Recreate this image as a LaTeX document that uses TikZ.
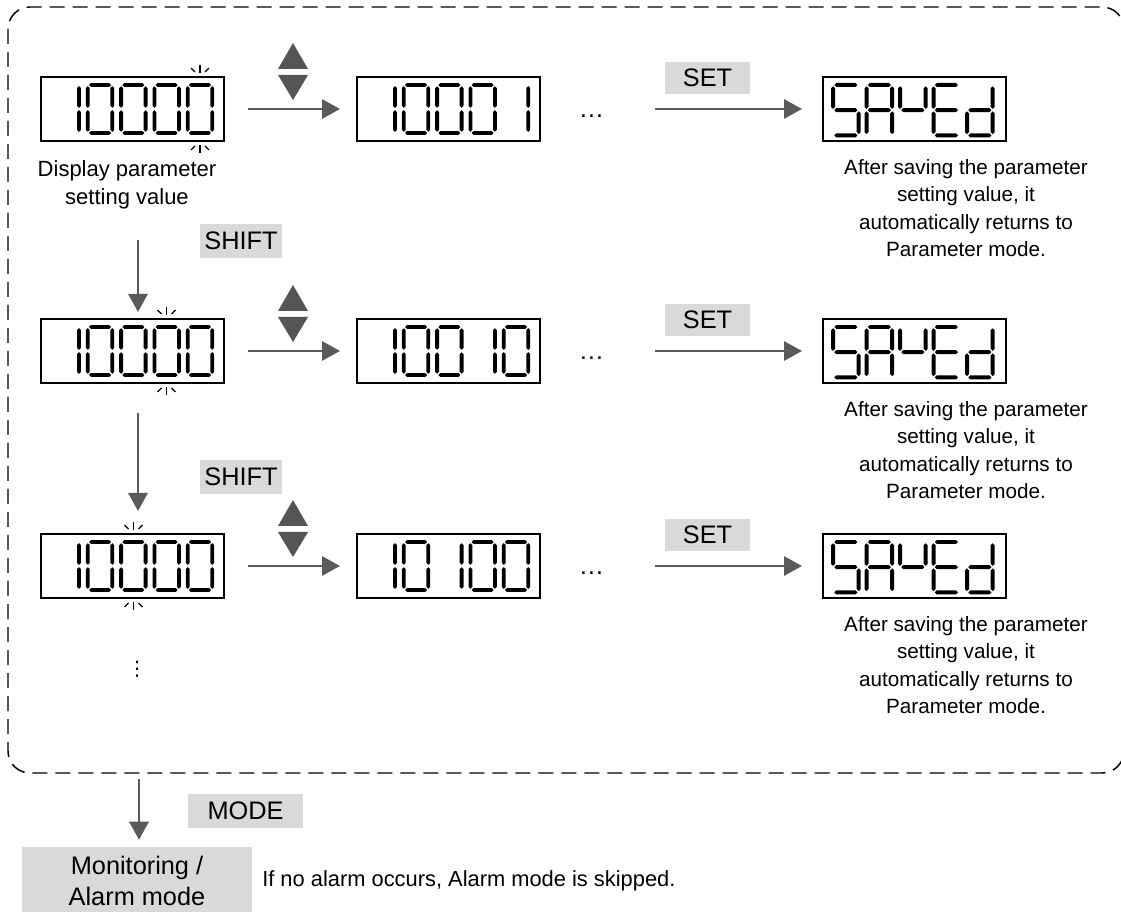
\documentclass[tikz,border=0pt]{standalone}
\usepackage{fontspec}
\setmainfont{Liberation Sans}
\newfontfamily\djv{DejaVu Sans}
\usetikzlibrary{arrows.meta}
\definecolor{arrgray}{HTML}{5A5A5A}
\definecolor{keyg}{HTML}{D9D9D9}
\definecolor{trigray}{HTML}{555555}
% seven-segment helpers (cell 24.5 x 48 px)
\newcommand\hsg[1]{\fill (1.2,#1)--(3.1,{#1-1.9})--(21.4,{#1-1.9})--(23.3,#1)--(21.4,{#1+1.9})--(3.1,{#1+1.9})--cycle;}
\newcommand\vsg[3]{\fill (#1,#2)--({#1+1.9},{#2+1.9})--({#1+1.9},{#3-1.9})--(#1,#3)--({#1-1.9},{#3-1.9})--({#1-1.9},{#2+1.9})--cycle;}
\newcommand\sgA{\hsg{0}}
\newcommand\sgD{\hsg{48}}
\newcommand\sgG{\hsg{24}}
\newcommand\sgF{\vsg{0}{1.2}{22.8}}
\newcommand\sgE{\vsg{0}{25.2}{46.8}}
\newcommand\sgB{\vsg{24.5}{1.2}{22.8}}
\newcommand\sgC{\vsg{24.5}{25.2}{46.8}}
\newcommand\dgt[4][1]{\begin{scope}[shift={({#2},{#3})},scale=#1]\foreach \s in {#4}{\csname sg\s\endcsname}\end{scope}}
\newcommand\numdisp[7]{%
\dgt{#1+13.5}{#2+8}{#3}\dgt{#1+46.8}{#2+8}{#4}\dgt{#1+80.1}{#2+8}{#5}\dgt{#1+113.4}{#2+8}{#6}\dgt{#1+146.7}{#2+8}{#7}}
\newcommand\savedisp[2]{%
\dgt[1.05]{#1+10}{#2+8}{A,F,G,C,D}\dgt[1.05]{#1+43.5}{#2+8}{A,B,C,E,F,G}\dgt[1.05]{#1+77}{#2+8}{F,G,B}\dgt[1.05]{#1+110.5}{#2+8}{A,D,E,F,G}\dgt[1.05]{#1+144}{#2+8}{B,C,D,E,G}}
\newcommand\blinkup[2]{\draw[blinkline] (#1,{#2-12})--(#1,{#2-4}); \draw[blinkline] ({#1-9},{#2-9})--({#1-5},{#2-5}); \draw[blinkline] ({#1+9},{#2-9})--({#1+5},{#2-5});}
\newcommand\blinkdn[2]{\draw[blinkline] (#1,{#2+12})--(#1,{#2+4}); \draw[blinkline] ({#1-9},{#2+9})--({#1-5},{#2+5}); \draw[blinkline] ({#1+9},{#2+9})--({#1+5},{#2+5});}
\newcommand\updown[1]{\fill[trigray] (278,{69+#1})--(293,{43+#1})--(308,{69+#1})--cycle; \fill[trigray] (278,{75+#1})--(308,{75+#1})--(293,{100+#1})--cycle;}
\begin{document}
\begin{tikzpicture}[x=0.75pt,y=-0.75pt,
  dispbox/.style={draw=black, line width=1.1pt, minimum width=137.25pt, minimum height=48pt, inner sep=0pt, outer sep=0pt},
  blinkline/.style={line width=0.95pt},
  conn/.style={draw=arrgray, line width=1.5pt, -{Triangle[length=13.5pt,width=14.5pt]}},
  keybox/.style={fill=keyg, inner sep=0pt, font=\fontsize{19}{21}\selectfont},
  body/.style={font=\fontsize{15.5}{20.6}\selectfont, align=center, inner sep=0pt},
  dotsnode/.style={inner sep=0pt, font=\fontsize{19}{19}\selectfont},
]
\useasboundingbox (0,0) rectangle (1121,912);
\clip (0,0) rectangle (1121,912);
% dashed frame
\draw[line width=1.1pt, dash pattern=on 11.25pt off 6pt, rounded corners=16.5pt] (8,7) rectangle (1124,773);

% ---------- row 1 ----------
\node[dispbox] (d11) at (132.5,109) {};
\node[dispbox] (d12) at (448.5,109) {};
\node[dispbox] (d13) at (914.5,109) {};
\numdisp{41}{77}{B,C}{A,B,C,D,E,F}{A,B,C,D,E,F}{A,B,C,D,E,F}{A,B,C,D,E,F}
\numdisp{357}{77}{B,C}{A,B,C,D,E,F}{A,B,C,D,E,F}{A,B,C,D,E,F}{B,C}
\savedisp{823}{77}
\blinkup{200}{77}\blinkdn{200}{141}
\updown{0}
\node[body, font=\fontsize{16.5}{21}\selectfont] (t1) at (127,185) {Display parameter\\setting value};
\node[keybox, minimum width=63.75pt, minimum height=24pt] (set1) at (707.5,78) {SET};
\node[dotsnode] (dots1) at (591.5,116) {…};
\node[body] (r1) at (966,208) {After saving the parameter\\setting value, it\\automatically returns to\\Parameter mode.};
\draw[conn, shorten <=18pt, shorten >=12.75pt] (d11) -- (d12);
\draw[conn, shorten <=38pt, shorten >=15.75pt] (dots1.east |- d13.west) -- (d13.west);

\node[keybox, minimum width=61.5pt, minimum height=25.5pt] (sh1) at (241,241) {SHIFT};
\coordinate (s1) at (138,240);

% ---------- row 2 ----------
\node[dispbox] (d21) at (132.5,351) {};
\node[dispbox] (d22) at (448.5,351) {};
\node[dispbox] (d23) at (914.5,351) {};
\numdisp{41}{319}{B,C}{A,B,C,D,E,F}{A,B,C,D,E,F}{A,B,C,D,E,F}{A,B,C,D,E,F}
\numdisp{357}{319}{B,C}{A,B,C,D,E,F}{A,B,C,D,E,F}{B,C}{A,B,C,D,E,F}
\savedisp{823}{319}
\blinkup{166.5}{319}\blinkdn{166.5}{383}
\updown{242}
\node[keybox, minimum width=63.75pt, minimum height=24pt] (set2) at (707.5,320) {SET};
\node[dotsnode] (dots2) at (591.5,358) {…};
\node[body] (r2) at (966,450) {After saving the parameter\\setting value, it\\automatically returns to\\Parameter mode.};
\draw[conn, shorten <=18pt, shorten >=12.75pt] (d21) -- (d22);
\draw[conn, shorten <=38pt, shorten >=15.75pt] (dots2.east |- d23.west) -- (d23.west);
\draw[conn, shorten >=5.25pt] (s1) -- (s1 |- d21.north);

\node[keybox, minimum width=61.5pt, minimum height=25.5pt] (sh2) at (241,477) {SHIFT};
\coordinate (s2) at (138,413);

% ---------- row 3 ----------
\node[dispbox] (d31) at (132.5,566) {};
\node[dispbox] (d32) at (448.5,566) {};
\node[dispbox] (d33) at (914.5,566) {};
\numdisp{41}{534}{B,C}{A,B,C,D,E,F}{A,B,C,D,E,F}{A,B,C,D,E,F}{A,B,C,D,E,F}
\numdisp{357}{534}{B,C}{A,B,C,D,E,F}{B,C}{A,B,C,D,E,F}{A,B,C,D,E,F}
\savedisp{823}{534}
\blinkup{133.5}{534}\blinkdn{133.5}{598}
\updown{457}
\node[keybox, minimum width=63.75pt, minimum height=24pt] (set3) at (707.5,535) {SET};
\node[dotsnode] (dots3) at (591.5,573) {…};
\node[body] (r3) at (966,665) {After saving the parameter\\setting value, it\\automatically returns to\\Parameter mode.};
\draw[conn, shorten <=18pt, shorten >=12.75pt] (d31) -- (d32);
\draw[conn, shorten <=38pt, shorten >=15.75pt] (dots3.east |- d33.west) -- (d33.west);
\draw[conn, shorten >=17.25pt] (s2) -- (s2 |- d31.north);

\node[inner sep=0pt, font=\djv\fontsize{15}{15}\selectfont] (vd) at (137,669) {⋮};

% ---------- bottom ----------
\node[keybox, minimum width=86.25pt, minimum height=25.5pt] (mode) at (245.5,811) {MODE};
\node[fill=keyg, inner sep=0pt, minimum width=172.5pt, minimum height=51pt, align=center, font=\fontsize{19}{23.25}\selectfont] (mon) at (137,881) {Monitoring /\\Alarm mode};
\coordinate (s3) at (139,779);
\draw[conn, shorten >=5.25pt] (s3) -- (s3 |- mon.north);
\node[anchor=west, inner sep=0pt, font=\fontsize{16.4}{18}\selectfont] (note) at (262,881) {If no alarm occurs, Alarm mode is skipped.};
\end{tikzpicture}
\end{document}
